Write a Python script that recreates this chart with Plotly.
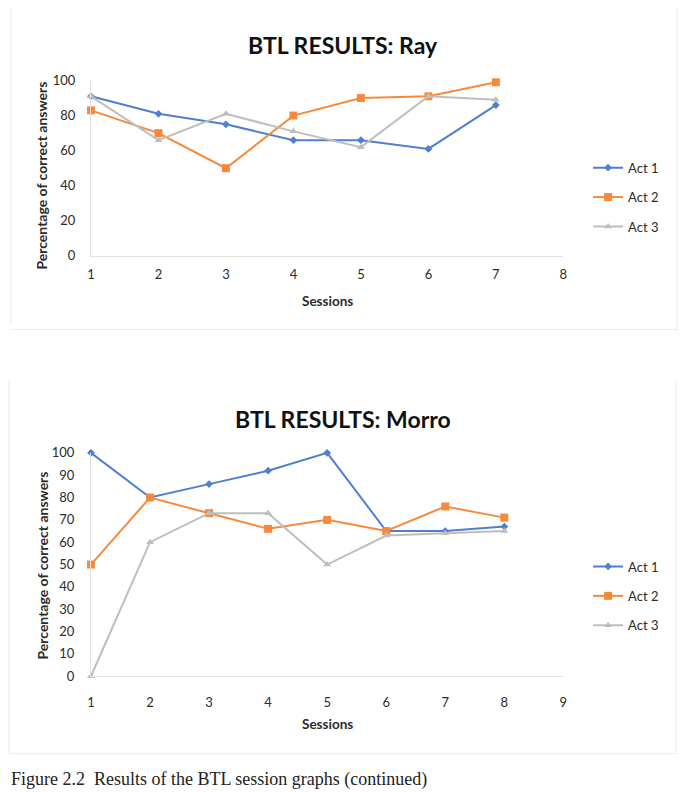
import plotly.graph_objects as go

W, H = 683, 793

# ---- data ----
ray_sessions = [1, 2, 3, 4, 5, 6, 7]
ray_act1 = [91, 81, 75, 66, 66, 61, 86]
ray_act2 = [83, 70, 50, 80, 90, 91, 99]
ray_act3 = [91, 66, 81, 71, 62, 91, 89]

morro_sessions = [1, 2, 3, 4, 5, 6, 7, 8]
morro_act1 = [100, 80, 86, 92, 100, 65, 65, 67]
morro_act2 = [50, 80, 73, 66, 70, 65, 76, 71]
morro_act3 = [0, 60, 73, 73, 50, 63, 64, 65]

ray_ticks = [1, 2, 3, 4, 5, 6, 7, 8]
morro_ticks = [1, 2, 3, 4, 5, 6, 7, 8, 9]
series_names = ["Act 1", "Act 2", "Act 3"]

COLORS = ["#4F7FCF", "#F68A3C", "#BEBEBE"]
SYMBOLS = ["diamond", "square", "triangle-up"]
MSIZE = [6, 8, 7]
FONT = "Lato, 'Open Sans', sans-serif"
TXT = "#2b2b2b"

# pixel centres of the legend entries (layout)
RAY_LEG_Y = [163, 193, 223]
MORRO_LEG_Y = [570, 600, 630]
LEG_X = 591


def xp(px):
    return px / W


def yp(py):
    return 1 - py / H


fig = go.Figure()

legend_layout = {}
k = 0
for chart, xs, series, ax, legy in [
    ("r", ray_sessions, [ray_act1, ray_act2, ray_act3], ("x", "y"), RAY_LEG_Y),
    ("m", morro_sessions, [morro_act1, morro_act2, morro_act3], ("x2", "y2"), MORRO_LEG_Y),
]:
    for i, (name, ys) in enumerate(zip(series_names, series)):
        k += 1
        lname = "legend" if k == 1 else "legend%d" % k
        fig.add_trace(go.Scatter(
            x=xs, y=ys, name=name, mode="lines+markers",
            line=dict(color=COLORS[i], width=2),
            marker=dict(symbol=SYMBOLS[i], size=MSIZE[i], color=COLORS[i]),
            xaxis=ax[0], yaxis=ax[1], legend=lname,
            cliponaxis=False,
        ))
        legend_layout[lname] = dict(
            x=xp(LEG_X), y=yp(legy[i]), xanchor="left", yanchor="middle",
            font=dict(family=FONT, size=13, color=TXT),
            bgcolor="rgba(0,0,0,0)", borderwidth=0)

axis_common = dict(showgrid=False, zeroline=False, ticks="",
                   tickfont=dict(family=FONT, size=13, color=TXT),
                   showline=True, linecolor="#e2e2e2", linewidth=1)

fig.update_layout(
    width=W, height=H,
    margin=dict(l=0, r=0, t=0, b=0),
    paper_bgcolor="white", plot_bgcolor="white",
    showlegend=True,
    xaxis=dict(domain=[xp(88), xp(566)], range=[1, 8], tickvals=ray_ticks,
               anchor="y", ticklabelstandoff=7, **axis_common),
    yaxis=dict(domain=[yp(253), yp(74)], range=[0, 100], dtick=20,
               anchor="x", ticklabelstandoff=12, **axis_common),
    xaxis2=dict(domain=[xp(88), xp(566)], range=[1, 9], tickvals=morro_ticks,
                anchor="y2", ticklabelstandoff=14, **axis_common),
    yaxis2=dict(domain=[yp(682), yp(454)], range=[0, 100], dtick=10,
                anchor="x2", ticklabelstandoff=13, **axis_common),
    **legend_layout,
)

ann = []
ann.append(dict(text="<b>BTL RESULTS: Ray</b>", x=xp(343), y=yp(38), xref="paper", yref="paper",
                showarrow=False, font=dict(family=FONT, size=23, color="#111"),
                xanchor="center", yanchor="middle"))
ann.append(dict(text="<b>BTL RESULTS: Morro</b>", x=xp(343), y=yp(419), xref="paper", yref="paper",
                showarrow=False, font=dict(family=FONT, size=23, color="#111"),
                xanchor="center", yanchor="middle"))
for cy in [171, 569]:
    ann.append(dict(text="<b>Percentage of correct answers</b>", x=xp(38.5), y=yp(cy),
                    xref="paper", yref="paper", showarrow=False, textangle=-90,
                    font=dict(family=FONT, size=14, color=TXT),
                    xanchor="center", yanchor="middle"))
for cy in [299, 731]:
    ann.append(dict(text="<b>Sessions</b>", x=xp(327), y=yp(cy), xref="paper", yref="paper",
                    showarrow=False, font=dict(family=FONT, size=13.5, color=TXT),
                    xanchor="center", yanchor="middle"))
ann.append(dict(text="Figure 2.2  Results of the BTL session graphs (continued)",
                x=xp(5), y=yp(787), xref="paper", yref="paper", showarrow=False,
                font=dict(family="'Liberation Serif', 'DejaVu Serif', serif", size=18, color="#222"),
                xanchor="left", yanchor="middle"))
fig.update_layout(annotations=ann)

# faint chart-area borders from the scanned Excel charts
border = dict(color="#ebebeb", width=1)
for (x0, y0, x1, y1) in [(7, 0, 7, 323), (7, 328, 681, 328), (681, 0, 681, 330),
                         (5, 380, 5, 761), (5, 761, 680, 761), (680, 380, 680, 761)]:
    fig.add_shape(type="line", xref="paper", yref="paper",
                  x0=xp(x0), x1=xp(x1), y0=yp(y0), y1=yp(y1),
                  line=border, layer="below")

fig.write_html("out.html")
